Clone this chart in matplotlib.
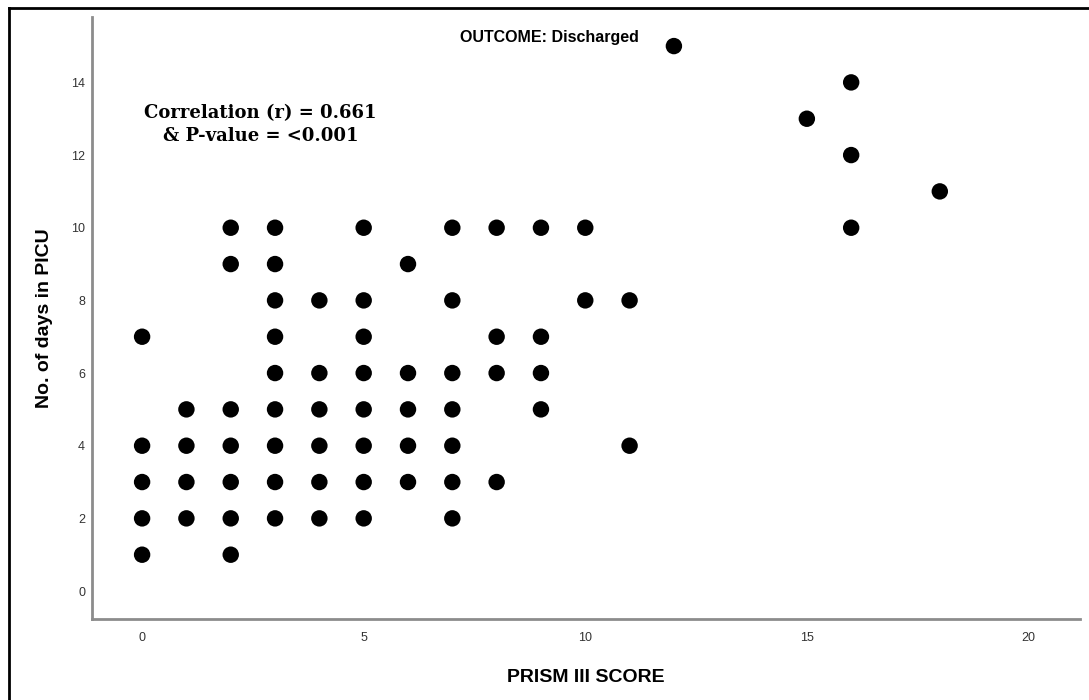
import matplotlib.pyplot as plt
from matplotlib.lines import Line2D

# PRISM III score vs days in PICU
prism_x = [0, 0, 0, 0, 0,
           1, 1, 1, 1,
           2, 2, 2, 2, 2, 2, 2,
           3, 3, 3, 3, 3, 3, 3, 3, 3,
           4, 4, 4, 4, 4, 4,
           5, 5, 5, 5, 5, 5, 5, 5,
           6, 6, 6, 6, 6,
           7, 7, 7, 7, 7, 7, 7,
           8, 8, 8, 8,
           9, 9, 9, 9,
           10, 10,
           11, 11,
           12, 15, 16, 16, 16, 18]
days_y = [1, 2, 3, 4, 7,
          2, 3, 4, 5,
          1, 2, 3, 4, 5, 9, 10,
          2, 3, 4, 5, 6, 7, 8, 9, 10,
          2, 3, 4, 5, 6, 8,
          2, 3, 4, 5, 6, 7, 8, 10,
          3, 4, 5, 6, 9,
          2, 3, 4, 5, 6, 8, 10,
          3, 6, 7, 10,
          5, 6, 7, 10,
          8, 10,
          4, 8,
          15, 13, 10, 12, 14, 11]

x_ticks = [0, 5, 10, 15, 20]
y_ticks = [0, 2, 4, 6, 8, 10, 12, 14]

plt.rcParams['font.family'] = ['Liberation Sans', 'DejaVu Sans']

fig = plt.figure(figsize=(10.89, 7.0), dpi=100)
ax = fig.add_axes([0.0845, 0.1157, 0.9075, 0.86])

ax.scatter(prism_x, days_y, s=140, color='black', edgecolors='none', zorder=3)

ax.set_xlim(-1.13, 21.17)
ax.set_ylim(-0.77, 15.8)
ax.set_xticks(x_ticks)
ax.set_yticks(y_ticks)
ax.tick_params(length=0, labelsize=9, colors='#333333')
ax.tick_params(axis='y', pad=5)
ax.tick_params(axis='x', pad=9)

for side in ['top', 'right']:
    ax.spines[side].set_visible(False)
for side in ['left', 'bottom']:
    ax.spines[side].set_color('#8c8c8c')
    ax.spines[side].set_linewidth(2)

ax.set_xlabel('PRISM III SCORE', fontsize=14, fontweight='bold', labelpad=18)
ax.set_ylabel('No. of days in PICU', fontsize=14, fontweight='bold', labelpad=13)

fig.text(0.5046, 0.947, 'OUTCOME: Discharged', ha='center', va='center',
         fontsize=11.5, fontweight='bold',
         family=['Liberation Sans Narrow', 'Liberation Sans'])

fig.text(0.239, 0.822, 'Correlation (r) = 0.661\n& P-value = <0.001',
         ha='center', va='center', fontsize=13, fontweight='bold',
         family=['DejaVu Serif'], linespacing=1.4)

# outer frame (top and left edges only visible in the reference)
fig.add_artist(Line2D([0.008, 0.008], [0.0, 0.988], transform=fig.transFigure,
                      color='black', linewidth=2))
fig.add_artist(Line2D([0.008, 1.0], [0.988, 0.988], transform=fig.transFigure,
                      color='black', linewidth=2))

fig.savefig('out.png', dpi=100)
